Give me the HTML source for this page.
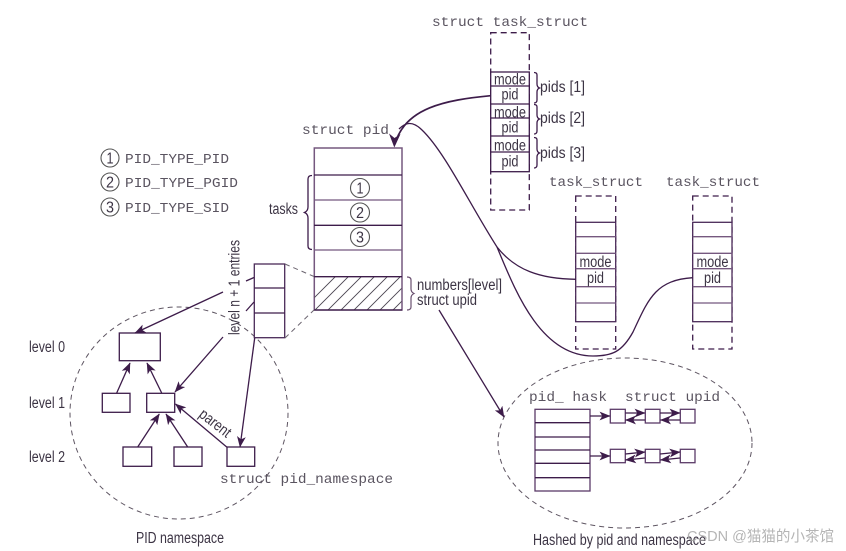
<!DOCTYPE html>
<html><head><meta charset="utf-8">
<style>
html,body{margin:0;padding:0;background:#fff;width:846px;height:551px;overflow:hidden}
svg{display:block;filter:blur(.3px)}
.m{font-family:"Liberation Mono",monospace;font-size:14px;fill:#5a5460}
.s{font-family:"Liberation Sans",sans-serif;font-size:15.500px;fill:#3c3444}
.c{text-anchor:middle}
.b{fill:#fff;stroke:#3d1c4a;stroke-width:1.300}
.l{stroke:#3d1c4a;stroke-width:1.300;fill:none}
.g{stroke:#75587f;stroke-width:1.300;fill:none}
.d{stroke:#3d1c4a;stroke-width:1.300;fill:none;stroke-dasharray:6 4}
.e{stroke:#5e5562;stroke-width:1;fill:none;stroke-dasharray:5 4}
.a{fill:#3d1c4a;stroke:none}
</style></head><body>
<svg width="846" height="551" viewBox="0 0 846 551" xmlns="http://www.w3.org/2000/svg">
<defs>
<marker id="ar" viewBox="0 0 10 8" refX="9.500" refY="4" markerWidth="11" markerHeight="9" markerUnits="userSpaceOnUse" orient="auto"><path d="M0 0L10 4L0 8L2.500 4Z" class="a"/></marker>
<clipPath id="hc"><rect x="314.500" y="277" width="87" height="33"/></clipPath>
</defs>

<!-- ellipses -->
<ellipse class="e" cx="179" cy="413" rx="109" ry="106"/>
<ellipse class="e" cx="625" cy="443" rx="127" ry="85"/>

<!-- task_struct top -->
<text class="m" x="432" y="26" textLength="156" lengthAdjust="spacingAndGlyphs">struct task_struct</text>
<rect class="d" x="490.700" y="32.700" width="38.600" height="177.300"/>
<rect x="490.700" y="72" width="38.600" height="99.700" class="b"/>
<path class="l" d="M490.700 86H529.300M490.700 104H529.300M490.700 118H529.300M490.700 136H529.300M490.700 152H529.300"/>
<g class="s c">
<text class="s c" x="510" y="84.500" textLength="32" lengthAdjust="spacingAndGlyphs">mode</text>
<text class="s c" x="510" y="99.500" textLength="17" lengthAdjust="spacingAndGlyphs">pid</text>
<text class="s c" x="510" y="117.500" textLength="32" lengthAdjust="spacingAndGlyphs">mode</text>
<text class="s c" x="510" y="132.500" textLength="17" lengthAdjust="spacingAndGlyphs">pid</text>
<text class="s c" x="510" y="150.500" textLength="32" lengthAdjust="spacingAndGlyphs">mode</text>
<text class="s c" x="510" y="166.500" textLength="17" lengthAdjust="spacingAndGlyphs">pid</text>
</g>
<path class="l" d="M534 72.500Q537 72.500 537 75V84Q537 87 539.500 88Q537 89 537 92V100Q537 103 534 103"/>
<path class="l" d="M534 104.500Q537 104.500 537 107V115Q537 118 539.500 119Q537 120 537 123V131Q537 134 534 134"/>
<path class="l" d="M534 137.500Q537 137.500 537 140V149Q537 152 539.500 153Q537 154 537 157V165Q537 168 534 168"/>
<text class="s" x="540" y="92" textLength="45" lengthAdjust="spacingAndGlyphs">pids [1]</text>
<text class="s" x="540" y="123" textLength="45" lengthAdjust="spacingAndGlyphs">pids [2]</text>
<text class="s" x="540" y="158" textLength="45" lengthAdjust="spacingAndGlyphs">pids [3]</text>

<!-- struct pid -->
<text class="m" x="302" y="134" textLength="87" lengthAdjust="spacingAndGlyphs">struct pid</text>
<rect x="314.300" y="148" width="87.700" height="162" fill="#fff" stroke="#75587f" stroke-width="1.500"/>
<path class="l" d="M314 175H402"/>
<path class="g" d="M314 200H402"/>
<path class="l" d="M314 225.300H402"/>
<path class="g" d="M314 250H402"/>
<g clip-path="url(#hc)" stroke="#4a4450" stroke-width="0.900" fill="none">
<path d="M300 287L333 254M300 312L345 267M310 315L358 267M323 315L371 267M336 315L384 267M349 315L397 267M362 315L410 267M375 315L423 267M388 315L436 267"/>
</g>
<path class="l" d="M314 276.700H402M314 310H402"/>
<g fill="#fff" stroke="#555" stroke-width="1.100">
<circle cx="360" cy="188" r="9.500"/><circle cx="360" cy="212.500" r="9.500"/><circle cx="360" cy="237" r="9.500"/>
<circle cx="110" cy="158" r="9"/><circle cx="110" cy="182" r="9"/><circle cx="110" cy="207" r="9"/>
</g>
<g>
<text class="s c" x="360" y="193.500" textLength="7" lengthAdjust="spacingAndGlyphs">1</text>
<text class="s c" x="360" y="218" textLength="8" lengthAdjust="spacingAndGlyphs">2</text>
<text class="s c" x="360" y="242.500" textLength="8" lengthAdjust="spacingAndGlyphs">3</text>
<text class="s c" x="110" y="163.500" textLength="7" lengthAdjust="spacingAndGlyphs">1</text>
<text class="s c" x="110" y="187.500" textLength="8" lengthAdjust="spacingAndGlyphs">2</text>
<text class="s c" x="110" y="212.500" textLength="8" lengthAdjust="spacingAndGlyphs">3</text>
</g>
<text class="m" x="125" y="163" textLength="104" lengthAdjust="spacingAndGlyphs">PID_TYPE_PID</text>
<text class="m" x="125" y="187" textLength="113" lengthAdjust="spacingAndGlyphs">PID_TYPE_PGID</text>
<text class="m" x="125" y="212" textLength="104" lengthAdjust="spacingAndGlyphs">PID_TYPE_SID</text>
<text class="s" x="269" y="214" textLength="29" lengthAdjust="spacingAndGlyphs">tasks</text>
<path class="l" d="M312 175.500Q308 175.500 308 179V207Q308 211 304.500 212.500Q308 214 308 218V246Q308 249.500 312 249.500"/>
<path stroke="#6a5070" stroke-width="1.200" fill="none" d="M407 277Q411 277 411 280V289Q411 292 414 293.500Q411 295 411 298V307Q411 310 407 310"/>
<text class="s" x="417" y="290" textLength="85" lengthAdjust="spacingAndGlyphs">numbers[level]</text>
<text class="s" x="417" y="305" textLength="60" lengthAdjust="spacingAndGlyphs">struct upid</text>

<!-- small entries box -->
<rect x="254.300" y="264" width="30.400" height="73.700" fill="#fff" stroke="#4a2a58" stroke-width="1.300"/>
<path class="l" d="M254.300 288H284.700M254.300 313H284.700"/>
<path stroke="#6c6570" stroke-width="1" stroke-dasharray="5 4" fill="none" d="M285 264L314 276.500M285 338L314 310"/>
<text class="s" transform="translate(239.500,335) rotate(-90)" x="0" y="0" textLength="95" lengthAdjust="spacingAndGlyphs">level n + 1 entries</text>

<!-- namespace tree -->
<rect class="b" x="119.300" y="333" width="41" height="27.700"/>
<rect class="b" x="102.300" y="393.300" width="27.700" height="19"/>
<rect class="b" x="146.700" y="393.300" width="28" height="19"/>
<rect class="b" x="123" y="447" width="28.700" height="19.300"/>
<rect class="b" x="174" y="447" width="28" height="19.300"/>
<rect class="b" x="227" y="447" width="27.700" height="19.300"/>
<path class="l" marker-end="url(#ar)" d="M116.700 393L130 363"/>
<path class="l" marker-end="url(#ar)" d="M161.700 393L147 363"/>
<path class="l" marker-end="url(#ar)" d="M137.700 447L159.300 414"/>
<path class="l" marker-end="url(#ar)" d="M187.700 447L166 414"/>
<path class="l" marker-end="url(#ar)" d="M226.700 447L175.500 404"/>
<path class="l" marker-end="url(#ar)" d="M254.700 338L240 447"/>
<path class="l" marker-end="url(#ar)" d="M223 292L135 333"/>
<path class="l" marker-end="url(#ar)" d="M223 337L175 392"/>
<path class="l" d="M254 277.500L246 281M254 302L246 311"/>
<text class="s" transform="translate(198,416) rotate(38)" x="0" y="0" textLength="36" lengthAdjust="spacingAndGlyphs">parent</text>
<text class="s" x="29" y="352" textLength="36" lengthAdjust="spacingAndGlyphs">level 0</text>
<text class="s" x="29" y="408" textLength="36" lengthAdjust="spacingAndGlyphs">level 1</text>
<text class="s" x="29" y="462" textLength="36" lengthAdjust="spacingAndGlyphs">level 2</text>
<text class="m" x="220" y="483" textLength="173" lengthAdjust="spacingAndGlyphs">struct pid_namespace</text>
<text class="s" x="136" y="543" textLength="88" lengthAdjust="spacingAndGlyphs">PID namespace</text>

<!-- task_struct 2,3 -->
<text class="m" x="549" y="186" textLength="94" lengthAdjust="spacingAndGlyphs">task_struct</text>
<text class="m" x="666" y="186" textLength="94" lengthAdjust="spacingAndGlyphs">task_struct</text>
<rect class="d" x="575.700" y="196" width="40" height="153"/>
<rect class="d" x="692.700" y="196" width="39.300" height="153"/>
<rect x="575.700" y="222.300" width="40" height="99.400" fill="#fff" stroke="#4a2a58" stroke-width="1.300"/>
<rect x="692.700" y="222.300" width="39.300" height="99.400" fill="#fff" stroke="#4a2a58" stroke-width="1.300"/>
<path class="g" d="M575.700 236.700H615.700M575.700 253.300H615.700M575.700 268.700H615.700M575.700 286.700H615.700M575.700 303H615.700M692.700 236.700H732M692.700 253.300H732M692.700 268.700H732M692.700 286.700H732M692.700 303H732"/>
<text class="s c" x="595.500" y="267" textLength="32" lengthAdjust="spacingAndGlyphs">mode</text>
<text class="s c" x="595.500" y="283" textLength="17" lengthAdjust="spacingAndGlyphs">pid</text>
<text class="s c" x="712.500" y="267" textLength="32" lengthAdjust="spacingAndGlyphs">mode</text>
<text class="s c" x="712.500" y="283" textLength="17" lengthAdjust="spacingAndGlyphs">pid</text>

<!-- curves -->
<path d="M490.700 95.700C445 100 405 108 395 144" fill="none" stroke="#3d1c4a" stroke-width="1.700"/>
<path d="M394.300 147.500L389 133.500L394.500 138L400.500 134Z" class="a"/>
<path class="l" d="M399 129C405 123 412 120 422 130C445 152 470 205 497 247C515 270 540 279 576 279.300"/>
<path class="l" d="M497 247C515 290 540 356 593 356C612 356 622 352 633 332C648 300 655 280 692.700 277.700"/>

<!-- arrow to hash -->
<path class="l" marker-end="url(#ar)" d="M439 310L504 417"/>

<!-- hash -->
<text class="m" x="529" y="401" textLength="78" lengthAdjust="spacingAndGlyphs">pid_ hask</text>
<text class="m" x="625" y="401" textLength="95" lengthAdjust="spacingAndGlyphs">struct upid</text>
<rect x="535" y="409.300" width="55" height="81.700" fill="#fff" stroke="#5b3a68" stroke-width="1.300"/>
<path class="l" d="M535 422.700H590M535 437H590M535 450H590M535 463.300H590M535 477.700H590"/>
<g fill="#fff" stroke="#5b3a68" stroke-width="1.300">
<rect x="610.300" y="409.300" width="15" height="13.700"/><rect x="645.300" y="409.300" width="14.700" height="13.700"/><rect x="680.300" y="409.300" width="14.700" height="13.700"/>
<rect x="610.300" y="449.300" width="15" height="13.400"/><rect x="645.300" y="449.300" width="14.700" height="13.400"/><rect x="680.300" y="449.300" width="14.700" height="13.400"/>
</g>
<path class="l" marker-end="url(#ar)" d="M590 416H610"/>
<path class="l" marker-end="url(#ar)" d="M590 456H610"/>
<path class="l" marker-end="url(#ar)" d="M625.300 413H645"/>
<path class="l" marker-end="url(#ar)" d="M645 420H625.500"/>
<path class="l" marker-end="url(#ar)" d="M660 413H680"/>
<path class="l" marker-end="url(#ar)" d="M680 420H660.500"/>
<path class="l" marker-end="url(#ar)" d="M625.300 454L645 452"/>
<path class="l" marker-end="url(#ar)" d="M645 458L625.500 460"/>
<path class="l" marker-end="url(#ar)" d="M660 454L680 452"/>
<path class="l" marker-end="url(#ar)" d="M680 458L660.500 460"/>
<text class="s" x="533" y="545" textLength="173" lengthAdjust="spacingAndGlyphs">Hashed by pid and namespace</text>

<!-- watermark -->
<text x="687" y="541" textLength="147" lengthAdjust="spacingAndGlyphs" font-size="15" fill="#a8a8a8" fill-opacity="0.85" font-family="'Liberation Sans','Noto Sans CJK SC',sans-serif">CSDN @猫猫的小茶馆</text>
</svg>
</body></html>
